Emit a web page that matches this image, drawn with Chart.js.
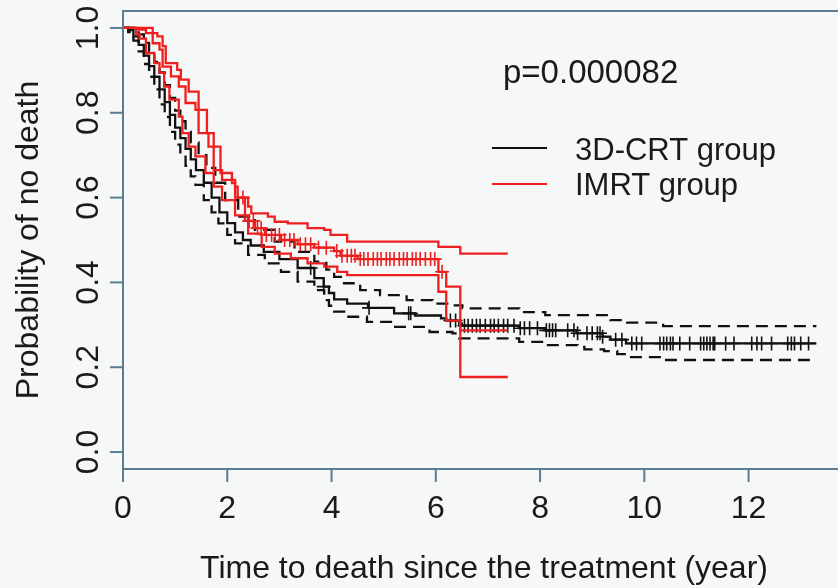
<!DOCTYPE html>
<html>
<head>
<meta charset="utf-8">
<script src="https://cdn.jsdelivr.net/npm/chart.js@4"></script>
<style>
  html, body { margin: 0; padding: 0; background: #f6f7f7; }
  #km { display: block; }
</style>
</head>
<body>
<canvas id="km" width="838" height="588"></canvas>
<script>
// axis ticks
const xTicks = [0, 2, 4, 6, 8, 10, 12];
const yTicks = [0, 0.2, 0.4, 0.6, 0.8, 1.0];
const yTickLabels = ['0.0', '0.2', '0.4', '0.6', '0.8', '1.0'];

// 3D-CRT group: Kaplan-Meier estimate + 95% CI
const crtTime = [0, 0.1, 0.2, 0.3, 0.4, 0.5, 0.6, 0.7, 0.8, 0.9, 1.0, 1.1, 1.2, 1.3, 1.4, 1.55, 1.7, 1.85, 2.0, 2.15, 2.3, 2.45, 2.7, 3.0, 3.35, 3.67, 3.85, 3.95, 4.05, 4.3, 4.7, 5.2, 5.6, 6.1, 6.2, 6.45, 6.5, 7.6, 8.1, 8.7, 9.2, 9.35, 9.65, 13.3];
const crtSurv = [1.0, 0.995, 0.98, 0.96, 0.935, 0.91, 0.885, 0.855, 0.825, 0.795, 0.765, 0.74, 0.715, 0.69, 0.665, 0.635, 0.6, 0.565, 0.54, 0.518, 0.5, 0.487, 0.472, 0.455, 0.434, 0.41, 0.39, 0.375, 0.36, 0.35, 0.34, 0.327, 0.322, 0.315, 0.31, 0.303, 0.298, 0.292, 0.287, 0.28, 0.272, 0.265, 0.256, 0.256];
const crtUpTime = [0, 0.15, 0.3, 0.4, 0.5, 0.6, 0.7, 0.8, 0.9, 1.0, 1.1, 1.2, 1.3, 1.45, 1.6, 1.77, 1.96, 2.21, 2.53, 2.91, 3.29, 3.67, 3.9, 4.05, 4.24, 4.55, 4.93, 5.44, 5.94, 6.32, 6.51, 7.6, 8.1, 9.35, 9.67, 10.36, 13.3];
const crtUp = [1.0, 1.0, 0.985, 0.965, 0.945, 0.92, 0.895, 0.865, 0.835, 0.805, 0.78, 0.755, 0.73, 0.7, 0.67, 0.635, 0.594, 0.555, 0.524, 0.496, 0.472, 0.449, 0.43, 0.413, 0.398, 0.382, 0.37, 0.358, 0.35, 0.346, 0.339, 0.33, 0.323, 0.311, 0.305, 0.297, 0.297];
const crtLoTime = [0, 0.1, 0.2, 0.3, 0.4, 0.5, 0.6, 0.7, 0.8, 0.9, 1.0, 1.1, 1.2, 1.3, 1.39, 1.55, 1.7, 1.83, 2.0, 2.15, 2.4, 2.72, 3.03, 3.35, 3.67, 3.86, 3.95, 4.05, 4.3, 4.68, 5.18, 5.88, 6.32, 6.45, 7.6, 8.09, 8.72, 8.85, 9.23, 9.48, 9.67, 10.36, 13.3];
const crtLo = [1.0, 0.99, 0.97, 0.945, 0.915, 0.885, 0.855, 0.82, 0.79, 0.755, 0.725, 0.7, 0.675, 0.65, 0.63, 0.594, 0.565, 0.539, 0.512, 0.492, 0.465, 0.445, 0.425, 0.402, 0.382, 0.358, 0.345, 0.331, 0.319, 0.307, 0.295, 0.283, 0.28, 0.268, 0.26, 0.252, 0.248, 0.242, 0.238, 0.231, 0.224, 0.217, 0.217];
const crtCensor = [3.6, 3.85, 4.72, 5.48, 5.52, 6.28, 6.38, 6.55, 6.62, 6.7, 6.78, 6.85, 6.95, 7.05, 7.12, 7.2, 7.3, 7.38, 7.5, 7.62, 7.7, 7.8, 7.95, 8.12, 8.18, 8.24, 8.3, 8.53, 8.65, 8.72, 8.9, 9.0, 9.1, 9.15, 9.2, 9.45, 9.57, 9.76, 9.85, 9.95, 10.3, 10.37, 10.43, 10.5, 10.55, 10.68, 10.87, 11.08, 11.14, 11.2, 11.26, 11.32, 11.35, 11.56, 11.72, 12.06, 12.16, 12.25, 12.44, 12.75, 12.82, 12.88, 13.0, 13.15];

// IMRT group
const imrtTime = [0, 0.25, 0.44, 0.57, 0.7, 0.76, 0.92, 1.07, 1.2, 1.39, 1.45, 1.64, 1.74, 1.9, 2.15, 2.34, 2.53, 2.72, 3.03, 3.35, 3.67, 4.05, 4.17, 4.5, 6.05, 6.2, 6.47, 7.38];
const imrtSurv = [1.0, 0.996, 0.988, 0.964, 0.949, 0.909, 0.886, 0.862, 0.823, 0.807, 0.752, 0.72, 0.665, 0.642, 0.6, 0.545, 0.528, 0.512, 0.5, 0.49, 0.482, 0.474, 0.463, 0.455, 0.425, 0.39, 0.287, 0.287];
const imrtUpTime = [0, 0.57, 0.66, 0.76, 0.82, 1.04, 1.11, 1.26, 1.45, 1.61, 1.74, 1.87, 2.09, 2.15, 2.2, 2.4, 2.46, 2.78, 2.91, 3.16, 3.54, 3.86, 3.98, 4.3, 6.05, 6.47, 7.38];
const imrtUp = [1.0, 0.988, 0.98, 0.957, 0.917, 0.901, 0.878, 0.85, 0.807, 0.752, 0.72, 0.658, 0.634, 0.626, 0.6, 0.579, 0.563, 0.555, 0.543, 0.539, 0.528, 0.524, 0.512, 0.496, 0.484, 0.468, 0.468];
const imrtLoTime = [0, 0.25, 0.32, 0.44, 0.6, 0.7, 0.79, 0.89, 1.07, 1.14, 1.26, 1.39, 1.58, 1.74, 1.9, 2.15, 2.4, 2.66, 2.91, 3.22, 3.54, 3.86, 4.11, 4.3, 6.05, 6.2, 6.47, 7.38];
const imrtLo = [1.0, 0.985, 0.975, 0.941, 0.917, 0.894, 0.862, 0.831, 0.791, 0.752, 0.72, 0.697, 0.658, 0.626, 0.594, 0.558, 0.515, 0.484, 0.468, 0.457, 0.445, 0.437, 0.425, 0.417, 0.378, 0.31, 0.177, 0.177];
const imrtCensor = [2.3, 2.42, 2.5, 2.58, 2.65, 2.75, 2.85, 2.92, 3.0, 3.1, 3.2, 3.28, 3.4, 3.5, 3.6, 3.75, 3.9, 4.1, 4.2, 4.3, 4.38, 4.45, 4.55, 4.62, 4.7, 4.8, 4.88, 4.95, 5.05, 5.12, 5.2, 5.3, 5.38, 5.45, 5.55, 5.62, 5.7, 5.8, 5.9, 5.98, 6.12];

const pText = 'p=0.000082';
const legendLabels = ['3D-CRT group', 'IMRT group'];

const RED = '#ee1f1f';
const BLACK = '#111111';
const AXIS = '#5a7d90';
const FONT = '"Liberation Sans", Arial, sans-serif';

function pts(times, vals) {
    return times.map((t, i) => ({ x: t, y: vals[i] }));
}

// place each censor mark on the step curve
function marks(censor, times, vals) {
    return censor.map(t => {
        let v = vals[0];
        for (let i = 0; i < times.length; i++) {
            if (times[i] <= t) v = vals[i];
        }
        return { x: t, y: v };
    });
}

function stepLine(data, color, dashed) {
    return {
        data,
        showLine: true,
        stepped: true,
        borderColor: color,
        borderWidth: 2.3,
        borderDash: dashed ? [12, 7] : [],
        pointRadius: 0,
        fill: false
    };
}

function censorSet(data, color) {
    return {
        data,
        showLine: false,
        pointStyle: 'cross',
        pointRadius: 7,
        borderColor: color,
        borderWidth: 1.6,
        backgroundColor: color
    };
}

const framePlugin = {
    id: 'frame',
    beforeDraw(chart) {
        const ctx = chart.ctx;
        ctx.save();
        ctx.fillStyle = '#f6f7f7';
        ctx.fillRect(0, 0, chart.width, chart.height);
        ctx.restore();
    },
    afterDraw(chart) {
        const ctx = chart.ctx;
        const area = chart.chartArea;
        const xs = chart.scales.x;
        const ys = chart.scales.y;
        ctx.save();

        // box
        ctx.strokeStyle = AXIS;
        ctx.lineWidth = 2;
        ctx.strokeRect(area.left, area.top, area.right - area.left + 20, area.bottom - area.top);

        ctx.fillStyle = '#1a1a1a';
        ctx.font = '32px ' + FONT;

        // x ticks
        ctx.textAlign = 'center';
        ctx.textBaseline = 'alphabetic';
        xTicks.forEach(v => {
            const px = xs.getPixelForValue(v);
            ctx.beginPath();
            ctx.moveTo(px, area.bottom);
            ctx.lineTo(px, area.bottom + 13);
            ctx.stroke();
            ctx.fillText(String(v), px, 518);
        });

        // y ticks, labels rotated like R
        yTicks.forEach((v, i) => {
            const py = ys.getPixelForValue(v);
            ctx.beginPath();
            ctx.moveTo(area.left, py);
            ctx.lineTo(area.left - 13, py);
            ctx.stroke();
            ctx.save();
            ctx.translate(98, py);
            ctx.rotate(-Math.PI / 2);
            ctx.fillText(yTickLabels[i], 0, 0);
            ctx.restore();
        });

        // axis titles
        ctx.fillText('Time to death since the treatment (year)', (area.left + 845) / 2, 578);
        ctx.save();
        ctx.translate(38, (area.top + area.bottom) / 2);
        ctx.rotate(-Math.PI / 2);
        ctx.fillText('Probability of no death', 0, 0);
        ctx.restore();

        // p value
        ctx.textAlign = 'left';
        ctx.font = '33px ' + FONT;
        ctx.fillText(pText, 503, 83);

        // legend
        ctx.font = '31px ' + FONT;
        [[BLACK, 148, 160], [RED, 184, 195]].forEach(([col, ly, by], i) => {
            ctx.strokeStyle = col;
            ctx.lineWidth = 2;
            ctx.beginPath();
            ctx.moveTo(492, ly);
            ctx.lineTo(547, ly);
            ctx.stroke();
            ctx.fillText(legendLabels[i], 575, by);
        });

        ctx.restore();
    }
};

new Chart(document.getElementById('km'), {
    type: 'scatter',
    data: {
        datasets: [
            censorSet(marks(imrtCensor, imrtTime, imrtSurv), RED),
            stepLine(pts(imrtTime, imrtSurv), RED, false),
            stepLine(pts(imrtUpTime, imrtUp), RED, false),
            stepLine(pts(imrtLoTime, imrtLo), RED, false),
            censorSet(marks(crtCensor, crtTime, crtSurv), BLACK),
            stepLine(pts(crtTime, crtSurv), BLACK, false),
            stepLine(pts(crtUpTime, crtUp), BLACK, true),
            stepLine(pts(crtLoTime, crtLo), BLACK, true)
        ]
    },
    options: {
        responsive: false,
        animation: false,
        devicePixelRatio: 1,
        layout: { padding: { left: 123, top: 11, right: 0, bottom: 119 } },
        plugins: {
            legend: { display: false },
            tooltip: { enabled: false }
        },
        scales: {
            x: { type: 'linear', min: 0, max: 13.55, display: false },
            y: { type: 'linear', min: -0.04, max: 1.04, display: false }
        }
    },
    plugins: [framePlugin]
});
</script>
</body>
</html>
